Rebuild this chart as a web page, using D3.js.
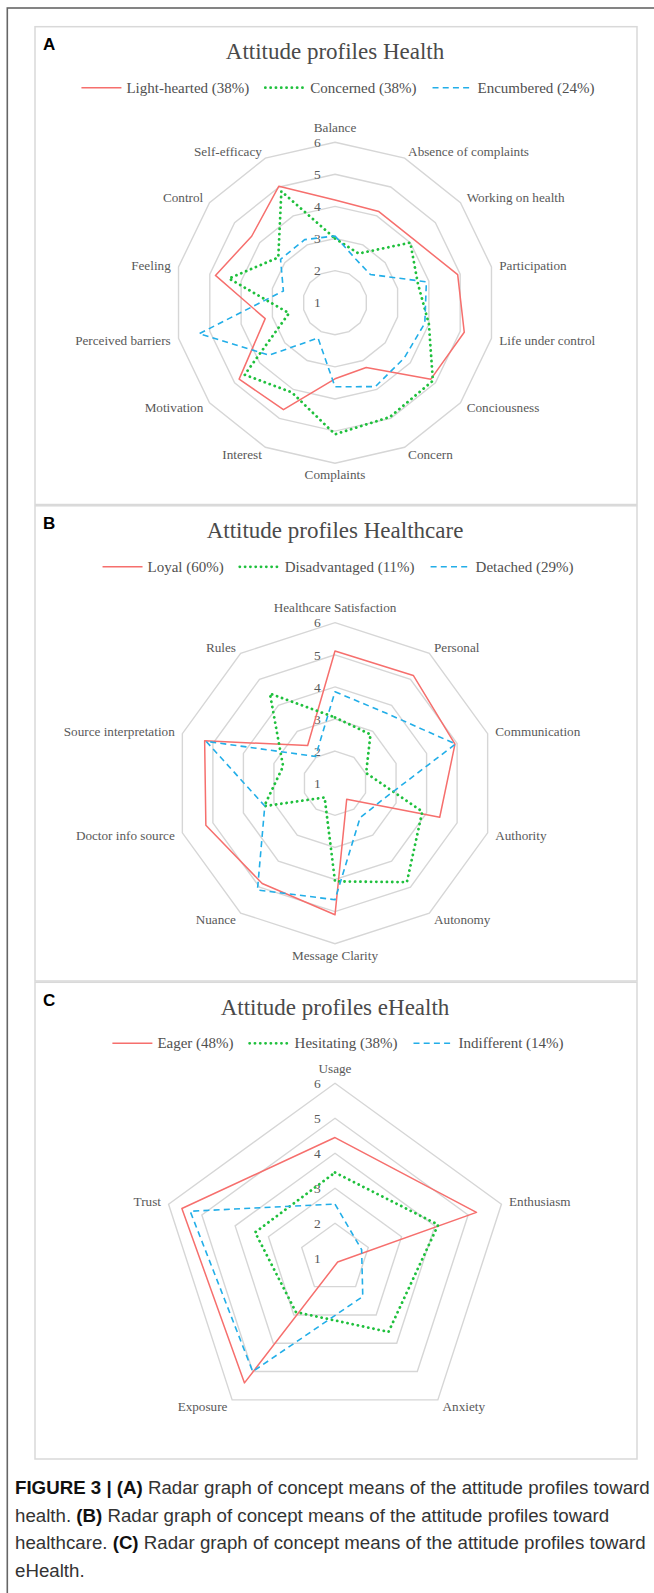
<!DOCTYPE html>
<html>
<head>
<meta charset="utf-8">
<script src="https://cdn.jsdelivr.net/npm/d3@7"></script>
<style>
  body { margin: 0; background: #fff; }
  svg { display: block; }
</style>
</head>
<body>
<script>
const w = 654;
const h = 1593;

// ----- DATA -----
const ticks = [1, 2, 3, 4, 5, 6];

const healthAxes = ["Balance", "Absence of complaints", "Working on health", "Participation",
  "Life under control", "Conciousness", "Concern", "Complaints", "Interest", "Motivation",
  "Perceived barriers", "Feeling", "Control", "Self-efficacy"];
const healthNames = ["Light-hearted (38%)", "Concerned (38%)", "Encumbered (24%)"];
const healthLight = [4.2, 4.15, 4.15, 4.92, 5.13, 4.82, 3.24, 3.37, 4.7, 4.82, 3.23, 4.82, 4.32, 5.03];
const healthConcerned = [3.0, 2.7, 4.0, 3.65, 4.0, 4.9, 4.95, 5.1, 4.1, 4.6, 2.47, 4.39, 3.26, 4.85];
const healthEncumbered = [3.08, 2.5, 2.41, 3.92, 3.87, 3.76, 3.9, 3.62, 2.22, 3.62, 5.34, 2.65, 3.17, 3.18];

const careAxes = ["Healthcare Satisfaction", "Personal", "Communication", "Authority", "Autonomy",
  "Message Clarity", "Nuance", "Doctor info source", "Source interpretation", "Rules"];
const careNames = ["Loyal (60%)", "Disadvantaged (11%)", "Detached (29%)"];
const careLoyal = [5.12, 5.15, 4.93, 4.43, 1.62, 5.1, 4.86, 5.23, 5.27, 2.45];
const careDisadvantaged = [3.05, 2.88, 2.02, 3.86, 4.81, 4.06, 1.55, 3.32, 2.7, 4.45];
const careDetached = [3.85, 3.7, 4.95, 2.59, 2.33, 4.63, 5.11, 3.3, 5.22, 2.03];

const eAxes = ["Usage", "Enthusiasm", "Anxiety", "Exposure", "Trust"];
const eNames = ["Eager (48%)", "Hesitating (38%)", "Indifferent (14%)"];
const eEager = [4.45, 5.25, 1.13, 5.4, 5.6];
const eHesitating = [3.45, 4.1, 3.6, 2.9, 3.4];
const eIndifferent = [2.55, 1.8, 2.35, 5.0, 5.35];

const captionLines = [
  [["FIGURE 3 | ", true], ["(A)", true], [" Radar graph of concept means of the attitude profiles toward", false]],
  [["health. ", false], ["(B)", true], [" Radar graph of concept means of the attitude profiles toward", false]],
  [["healthcare. ", false], ["(C)", true], [" Radar graph of concept means of the attitude profiles toward", false]],
  [["eHealth.", false]]
];

// ----- STYLES -----
const serif = "'Liberation Serif', 'Times New Roman', serif";
const sans = "'Liberation Sans', Arial, sans-serif";
const seriesStyle = [
  { color: "#f66f6d", dash: null, width: 1.5, cap: "butt" },
  { color: "#1fc03d", dash: "0.1 5.2", width: 2.8, cap: "round" },
  { color: "#22aee8", dash: "6 4.2", width: 1.6, cap: "butt" }
];

const panels = [
  { letter: "A", title: "Attitude profiles Health", top: 26.7, bottom: 504.5, cy: 302.7, R: 160.5,
    axes: healthAxes, names: healthNames, series: [healthLight, healthConcerned, healthEncumbered] },
  { letter: "B", title: "Attitude profiles Healthcare", top: 505.8, bottom: 981, cy: 783.2, R: 160.5,
    axes: careAxes, names: careNames, series: [careLoyal, careDisadvantaged, careDetached] },
  { letter: "C", title: "Attitude profiles eHealth", top: 982.3, bottom: 1459, cy: 1258.3, R: 175,
    axes: eAxes, names: eNames, series: [eEager, eHesitating, eIndifferent] }
];

const boxLeft = 35, boxRight = 637, cx = 335;

// ----- SVG CANVAS -----
const svg = d3.select("body").append("svg")
  .attr("width", w)
  .attr("height", h);

// outer frame
svg.append("rect")
  .attr("x", 7.3).attr("y", 8)
  .attr("width", w + 20).attr("height", h + 20)
  .attr("fill", "none")
  .attr("stroke", "#666")
  .attr("stroke-width", 1.6);

panels.forEach(function (p) {
  const g = svg.append("g");

  // panel box
  g.append("rect")
    .attr("x", boxLeft).attr("y", p.top)
    .attr("width", boxRight - boxLeft).attr("height", p.bottom - p.top)
    .attr("fill", "none")
    .attr("stroke", "#d9d9d9")
    .attr("stroke-width", 1.5);

  g.append("text")
    .attr("x", 43).attr("y", p.top + 23.5)
    .attr("font-family", sans).attr("font-weight", "bold")
    .attr("font-size", 17).attr("fill", "#000")
    .text(p.letter);

  g.append("text")
    .attr("x", cx).attr("y", p.top + 32.6)
    .attr("text-anchor", "middle")
    .attr("font-family", serif).attr("font-size", 23)
    .attr("fill", "#4a4a4a")
    .text(p.title);

  // ----- LEGEND -----
  const legY = p.top + 66;
  const leg = g.append("g");
  let xPos = 0;
  p.names.forEach(function (name, i) {
    const st = seriesStyle[i];
    leg.append("line")
      .attr("x1", xPos).attr("x2", xPos + 40)
      .attr("y1", legY - 5).attr("y2", legY - 5)
      .attr("stroke", st.color)
      .attr("stroke-width", st.width)
      .attr("stroke-dasharray", st.dash)
      .attr("stroke-linecap", st.cap);
    const t = leg.append("text")
      .attr("x", xPos + 45).attr("y", legY)
      .attr("font-family", serif).attr("font-size", 15)
      .attr("fill", "#505050")
      .text(name);
    xPos += 45 + t.node().getComputedTextLength() + 16;
  });
  xPos -= 16;
  leg.attr("transform", "translate(" + (338 - xPos / 2) + ",0)");

  // ----- RADAR -----
  const n = p.axes.length;
  const r = d3.scaleLinear().domain([1, 6]).range([0, p.R]);
  const angle = i => i * 2 * Math.PI / n;
  const radial = d3.lineRadial()
    .angle((d, i) => angle(i))
    .radius(d => r(d))
    .curve(d3.curveLinearClosed);

  const radar = g.append("g").attr("transform", "translate(" + cx + "," + p.cy + ")");

  radar.selectAll("path.ring")
    .data(ticks.filter(v => v > 1))
    .enter().append("path")
    .attr("class", "ring")
    .attr("d", v => radial(p.axes.map(() => v)))
    .attr("fill", "none")
    .attr("stroke", "#d6d6d6")
    .attr("stroke-width", 1.4);

  radar.selectAll("text.tick")
    .data(ticks)
    .enter().append("text")
    .attr("class", "tick")
    .attr("x", -17.7)
    .attr("y", v => -r(v))
    .attr("dy", "0.35em")
    .attr("text-anchor", "middle")
    .attr("font-family", serif).attr("font-size", 13.5)
    .attr("fill", "#595959")
    .text(v => v);

  radar.selectAll("path.series")
    .data(p.series)
    .enter().append("path")
    .attr("class", "series")
    .attr("d", d => radial(d))
    .attr("fill", "none")
    .attr("stroke", (d, i) => seriesStyle[i].color)
    .attr("stroke-width", (d, i) => seriesStyle[i].width)
    .attr("stroke-dasharray", (d, i) => seriesStyle[i].dash)
    .attr("stroke-linecap", (d, i) => seriesStyle[i].cap)
    .attr("stroke-linejoin", "round");

  radar.selectAll("text.axis")
    .data(p.axes)
    .enter().append("text")
    .attr("class", "axis")
    .each(function (d, i) {
      const a = angle(i);
      const s = Math.sin(a), c = Math.cos(a);
      const rr = p.R + 8;
      d3.select(this)
        .attr("x", rr * s)
        .attr("y", -rr * c)
        .attr("text-anchor", Math.abs(s) < 0.01 ? "middle" : (s > 0 ? "start" : "end"))
        .attr("dy", c > 0.99 ? "-0.2em" : (c < -0.99 ? "0.6em" : "0.35em"));
    })
    .attr("font-family", serif).attr("font-size", 13.2)
    .attr("fill", "#595959")
    .text(d => d);
});

// ----- CAPTION -----
const cap = svg.append("g");
captionLines.forEach(function (line, k) {
  const t = cap.append("text")
    .attr("x", 15).attr("y", 1494 + k * 27.5)
    .attr("font-family", sans).attr("font-size", 18.7)
    .attr("fill", "#222")
    .style("white-space", "pre");
  line.forEach(function (part) {
    t.append("tspan")
      .attr("font-weight", part[1] ? "bold" : "normal")
      .attr("fill", part[1] ? "#111" : "#333")
      .text(part[0]);
  });
});
</script>
</body>
</html>
